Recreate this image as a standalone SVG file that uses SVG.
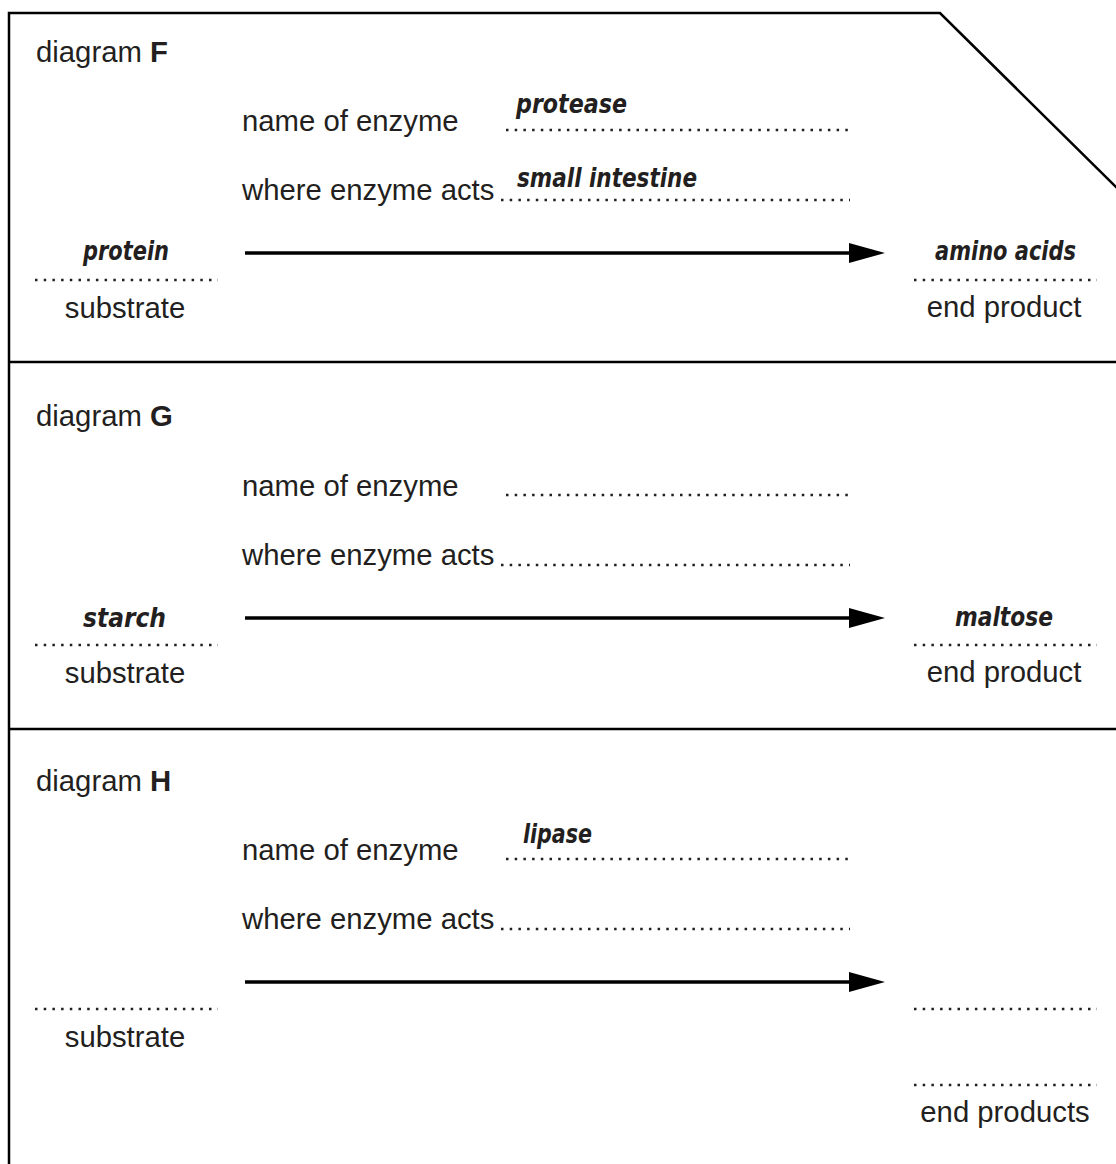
<svg xmlns="http://www.w3.org/2000/svg" width="1116" height="1164" viewBox="0 0 1116 1164">
<style>
.t{font-family:"Liberation Sans",Arial,sans-serif;font-size:29.3px;fill:#231f20}
.b{font-weight:bold}
.h{font-family:"DejaVu Sans",sans-serif;font-style:italic;font-weight:bold;font-stretch:condensed;font-size:26px;fill:#231f20}
.d{stroke:#231f20;stroke-width:2.5;stroke-dasharray:2.5 6.2;fill:none}
.frame{stroke:#000;stroke-width:2.5;fill:none}
.arr{stroke:#000;stroke-width:3.5;fill:none}
</style>
<defs>
<marker id="ah" viewBox="0 0 36 20" refX="0" refY="10" markerWidth="36" markerHeight="20" markerUnits="userSpaceOnUse" orient="auto">
<path d="M0,0 L36,10 L0,20 Z" fill="#000"/>
</marker>
</defs>
<g id="frame">
<path class="frame" d="M9,1164 V13 H940 L1117,188"/>
<line class="frame" x1="9" y1="362" x2="1116" y2="362"/>
<line class="frame" x1="9" y1="729" x2="1116" y2="729"/>
</g>
<g id="diagramF">
<text class="t" x="36" y="62">diagram <tspan class="b">F</tspan></text>
<text class="t" x="242" y="131">name of enzyme</text>
<line class="d" x1="506" y1="130" x2="850" y2="130"/>
<text class="h" x="516" y="113" textLength="111" lengthAdjust="spacingAndGlyphs">protease</text>
<text class="t" x="242" y="200">where enzyme acts</text>
<line class="d" x1="501" y1="200" x2="850" y2="200"/>
<text class="h" x="517" y="187" textLength="180" lengthAdjust="spacingAndGlyphs">small intestine</text>
<text class="h" x="83" y="260" textLength="86" lengthAdjust="spacingAndGlyphs">protein</text>
<line class="d" x1="35" y1="280" x2="218" y2="280"/>
<text class="t" x="125" y="318" text-anchor="middle">substrate</text>
<text class="h" x="935" y="260" textLength="141" lengthAdjust="spacingAndGlyphs">amino acids</text>
<line class="d" x1="914" y1="280" x2="1097" y2="280"/>
<text class="t" x="1004" y="317" text-anchor="middle">end product</text>
</g>
<g id="diagramG">
<text class="t" x="36" y="426">diagram <tspan class="b">G</tspan></text>
<text class="t" x="242" y="496">name of enzyme</text>
<line class="d" x1="506" y1="495" x2="850" y2="495"/>
<text class="t" x="242" y="565">where enzyme acts</text>
<line class="d" x1="501" y1="565" x2="850" y2="565"/>
<text class="h" x="83" y="627" textLength="83" lengthAdjust="spacingAndGlyphs">starch</text>
<line class="d" x1="35" y1="645" x2="218" y2="645"/>
<text class="t" x="125" y="683" text-anchor="middle">substrate</text>
<text class="h" x="955" y="626" textLength="98" lengthAdjust="spacingAndGlyphs">maltose</text>
<line class="d" x1="914" y1="645" x2="1097" y2="645"/>
<text class="t" x="1004" y="682" text-anchor="middle">end product</text>
</g>
<g id="diagramH">
<text class="t" x="36" y="791">diagram <tspan class="b">H</tspan></text>
<text class="t" x="242" y="860">name of enzyme</text>
<line class="d" x1="506" y1="859" x2="850" y2="859"/>
<text class="h" x="523" y="843" textLength="69" lengthAdjust="spacingAndGlyphs">lipase</text>
<text class="t" x="242" y="929">where enzyme acts</text>
<line class="d" x1="501" y1="929" x2="850" y2="929"/>
<line class="d" x1="35" y1="1009" x2="218" y2="1009"/>
<text class="t" x="125" y="1047" text-anchor="middle">substrate</text>
<line class="d" x1="914" y1="1009" x2="1097" y2="1009"/>
<line class="d" x1="914" y1="1085" x2="1097" y2="1085"/>
<text class="t" x="1005" y="1122" text-anchor="middle">end products</text>
</g>
<g id="connectors">
<line class="arr" x1="245" y1="253" x2="849" y2="253" marker-end="url(#ah)"/>
<line class="arr" x1="245" y1="618" x2="849" y2="618" marker-end="url(#ah)"/>
<line class="arr" x1="245" y1="982" x2="849" y2="982" marker-end="url(#ah)"/>
</g>
</svg>
